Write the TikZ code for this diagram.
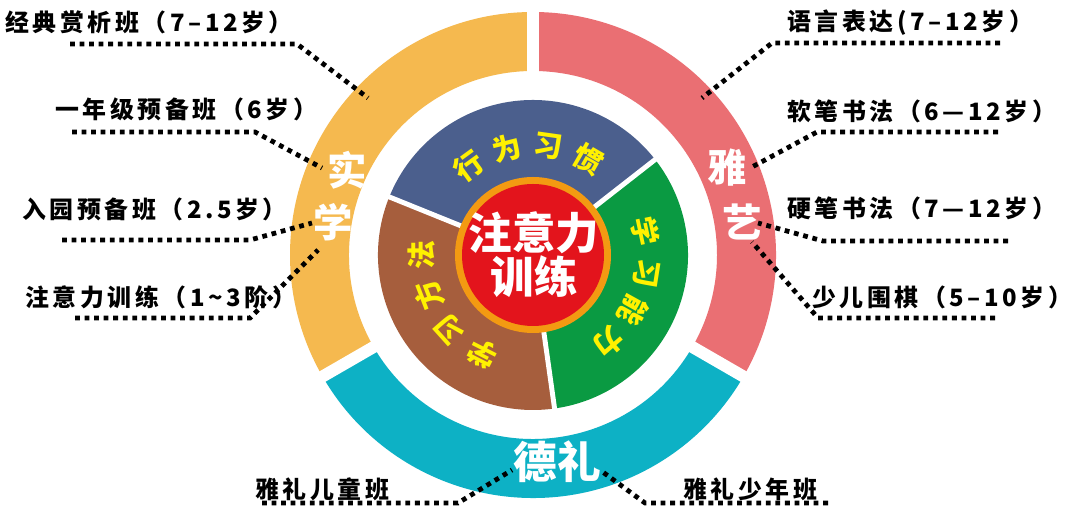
\documentclass[tikz,border=0pt]{standalone}
\usepackage{fontspec}
\setmainfont{Noto Sans CJK SC}
\newfontfamily\lblfont{Noto Sans CJK SC}[LetterSpace=15]
\usepackage{tikz}
\usetikzlibrary{positioning}
\definecolor{ylOrange}{HTML}{F5B94F}
\definecolor{ylPink}{HTML}{EA6F73}
\definecolor{ylTeal}{HTML}{0DB1C5}
\definecolor{ylBlue}{HTML}{4B5F8D}
\definecolor{ylBrown}{HTML}{A65E3D}
\definecolor{ylGreen}{HTML}{0A9A42}
\definecolor{ylRed}{HTML}{E3141C}
\definecolor{ylAmber}{HTML}{F39A12}
\definecolor{ylYellow}{HTML}{FFF100}

\begin{document}
\begin{tikzpicture}[
  x=0.025cm, y=0.025cm,
  lbl/.style={anchor=west, inner sep=0pt, font=\lblfont\bfseries\fontsize{17}{20}\selectfont},
  lead/.style={draw=black, line width=3.4pt, dash pattern=on 3.4pt off 3.4pt},
  ringtxt/.style={text=white, inner sep=0pt, font=\bfseries\fontsize{28}{30}\selectfont},
  wtxt/.style={text=ylYellow, inner sep=0pt, font=\bfseries\fontsize{20.5}{22}\selectfont},
  gap/.style={draw=white, line width=8.5pt},
  thingap/.style={draw=white, line width=3.5pt},
]
\fill[white] (0,0) rectangle (1080,511);
\useasboundingbox (0,0) rectangle (1080,511);

\begin{scope}[shift={(533,256)}]
% outer ring
\fill[ylOrange] (90:243) arc[start angle=90, end angle=210, radius=243]
  -- (210:184) arc[start angle=210, end angle=90, radius=184] -- cycle;
\fill[ylTeal] (210:243) arc[start angle=210, end angle=330, radius=243]
  -- (330:184) arc[start angle=330, end angle=210, radius=184] -- cycle;
\fill[ylPink] (-30:243) arc[start angle=-30, end angle=90, radius=243]
  -- (90:184) arc[start angle=90, end angle=-30, radius=184] -- cycle;
\foreach \a in {90,210,330}
  \draw[gap] (\a:170) -- (\a:255);

% inner wedges
\fill[ylBlue] (0,0) -- (38:155) arc[start angle=38, end angle=158, radius=155] -- cycle;
\fill[ylBrown] (0,0) -- (158:155) arc[start angle=158, end angle=278, radius=155] -- cycle;
\fill[ylGreen] (0,0) -- (278:155) arc[start angle=278, end angle=398, radius=155] -- cycle;
\foreach \a in {38,158,278}
  \draw[thingap] (0,0) -- (\a:160);

% core
\fill[ylAmber] (0,0) circle[radius=78];
\fill[ylRed] (0,0) circle[radius=71];

% wedge texts
\foreach \ch/\a [count=\i] in {行/126,为/104,习/82,惯/60}
  \node[wtxt, rotate=\a-90] (hw\i) at (\a:110) {\ch};
\foreach \ch/\a [count=\i] in {学/12,习/-9,能/-29,力/-49}
  \node[wtxt, rotate=\a-90] (xn\i) at (\a:115) {\ch};
\foreach \ch/\a [count=\i] in {学/243,习/222,方/201,法/180}
  \node[wtxt, rotate=\a-90] (xf\i) at (\a:111) {\ch};
\end{scope}

\node[align=center, text=white, font=\bfseries\fontsize{31}{28}\selectfont] (core) at (534,256) {注意力\\训练};

% ring titles
\node[ringtxt] (shi) at (347,341) {实};
\node[ringtxt] (xue) at (333,289) {学};
\node[ringtxt] (ya)  at (727,343) {雅};
\node[ringtxt] (yi)  at (742,289) {艺};
\node[ringtxt, font=\bfseries\fontsize{31}{33}\selectfont] (deli) at (557,49) {德礼};

% left labels
\node[lbl] (sx1) at (5,489)  {经典赏析班（7–12岁）};
\node[lbl] (sx2) at (55,402) {一年级预备班（6岁）};
\node[lbl] (sx3) at (22,302) {入园预备班（2.5岁）};
\node[lbl] (sx4) at (25,214) {注意力训练（1\textasciitilde 3阶）};

\coordinate (sx1a) at (70,467);  \coordinate (sx1b) at (297,467); \coordinate (sx1c) at (368,413);
\coordinate (sx2a) at (72,379);  \coordinate (sx2b) at (255,379); \coordinate (sx2c) at (322,343);
\coordinate (sx3a) at (62,271);  \coordinate (sx3b) at (250,271); \coordinate (sx3c) at (312,288);
\coordinate (sx4a) at (75,193);  \coordinate (sx4b) at (250,193); \coordinate (sx4c) at (318,261);
\draw[lead] (sx1a) -- (sx1b) -- (sx1c);
\draw[lead] (sx2a) -- (sx2b) -- (sx2c);
\draw[lead] (sx3a) -- (sx3b) -- (sx3c);
\draw[lead] (sx4a) -- (sx4b) -- (sx4c);

% right labels
\node[lbl] (yy1) at (787,488) {语言表达(7–12岁）};
\node[lbl] (yy2) at (787,400) {软笔书法（6—12岁）};
\node[lbl] (yy3) at (787,303) {硬笔书法（7—12岁）};
\node[lbl] (yy4) at (812,214) {少儿围棋（5–10岁）};

\coordinate (yy1a) at (1000,468); \coordinate (yy1b) at (772,468); \coordinate (yy1c) at (702,413);
\coordinate (yy2a) at (998,379);  \coordinate (yy2b) at (817,379); \coordinate (yy2c) at (752,344);
\coordinate (yy3a) at (1008,270); \coordinate (yy3b) at (823,270); \coordinate (yy3c) at (758,288);
\coordinate (yy4a) at (995,193);  \coordinate (yy4b) at (818,193); \coordinate (yy4c) at (752,269);
\draw[lead] (yy1a) -- (yy1b) -- (yy1c);
\draw[lead] (yy2a) -- (yy2b) -- (yy2c);
\draw[lead] (yy3a) -- (yy3b) -- (yy3c);
\draw[lead] (yy4a) -- (yy4b) -- (yy4c);

% bottom labels
\node[lbl] (dl1) at (255,22) {雅礼儿童班};
\node[lbl] (dl2) at (683,22) {雅礼少年班};
\coordinate (dl1a) at (262,8); \coordinate (dl1b) at (458,8); \coordinate (dl1c) at (512,41);
\coordinate (dl2a) at (828,8); \coordinate (dl2b) at (645,8); \coordinate (dl2c) at (600,41);
\draw[lead] (dl1a) -- (dl1b) -- (dl1c);
\draw[lead] (dl2a) -- (dl2b) -- (dl2c);
\end{tikzpicture}
\end{document}
